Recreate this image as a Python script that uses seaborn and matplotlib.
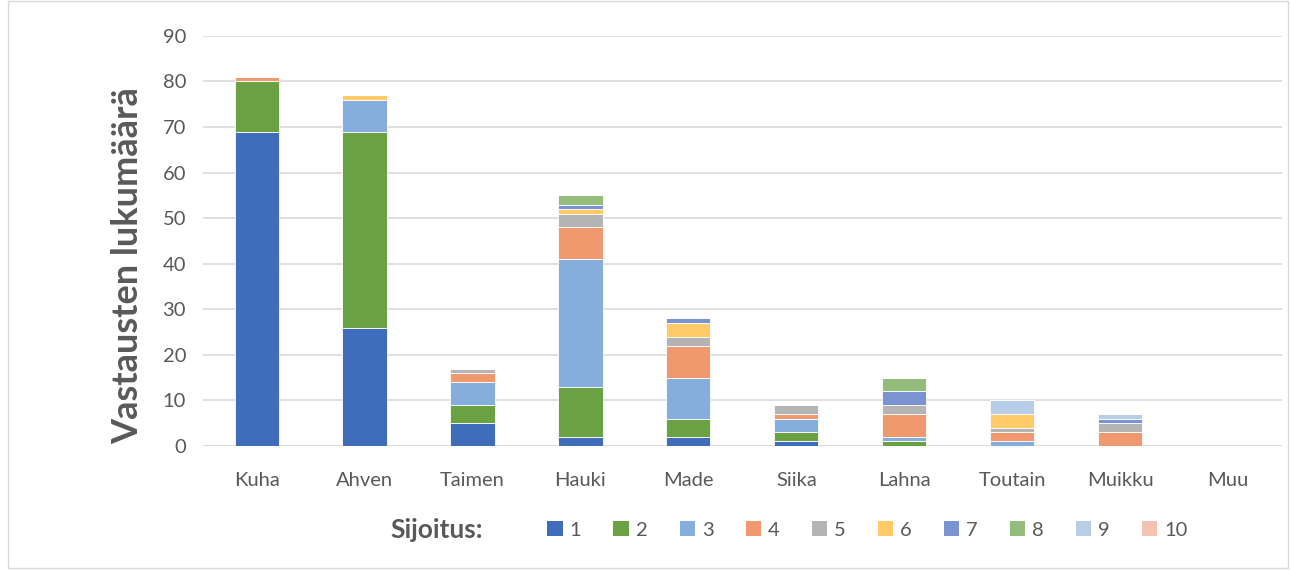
import numpy as np
import pandas as pd
import matplotlib.pyplot as plt
import seaborn as sns
from matplotlib.patches import Rectangle, Patch

# categories (fish species) and placements 1..10
species = ['Kuha', 'Ahven', 'Taimen', 'Hauki', 'Made', 'Siika', 'Lahna', 'Toutain', 'Muikku', 'Muu']
ranks = ['1', '2', '3', '4', '5', '6', '7', '8', '9', '10']

# counts per placement, one list per rank, in species order
rank_1 = [69, 26, 5, 2, 2, 1, 0, 0, 0, 0]
rank_2 = [11, 43, 4, 11, 4, 2, 1, 0, 0, 0]
rank_3 = [0, 7, 5, 28, 9, 3, 1, 1, 0, 0]
rank_4 = [1, 0, 2, 7, 7, 1, 5, 2, 3, 0]
rank_5 = [0, 0, 1, 3, 2, 2, 2, 1, 2, 0]
rank_6 = [0, 1, 0, 1, 3, 0, 0, 3, 0, 0]
rank_7 = [0, 0, 0, 1, 1, 0, 3, 0, 1, 0]
rank_8 = [0, 0, 0, 2, 0, 0, 3, 0, 0, 0]
rank_9 = [0, 0, 0, 0, 0, 0, 0, 3, 1, 0]
rank_10 = [0, 0, 0, 0, 0, 0, 0, 0, 0, 0]

colors = ['#3F6DBB', '#6AA142', '#85AEDC', '#F1996E', '#B4B4B4',
          '#FFCA67', '#7B93D1', '#94BC7A', '#B8CDE8', '#F4C2B0']

series = [rank_1, rank_2, rank_3, rank_4, rank_5, rank_6, rank_7, rank_8, rank_9, rank_10]

sns.set_style('white')
plt.rcParams['font.family'] = ['Lato', 'DejaVu Sans']

fig = plt.figure(figsize=(12.91, 5.70), dpi=100)
ax = fig.add_axes([0.157, 0.2175, 0.836, 0.7195])

# stacked bars with seaborn, cumulative bottoms
bottom = np.zeros(len(species))
for r, vals, c in zip(ranks, series, colors):
    df = pd.DataFrame({'Laji': species, 'Lukumäärä': vals})
    sns.barplot(data=df, x='Laji', y='Lukumäärä', color=c, bottom=bottom,
                width=0.41, ax=ax, saturation=1, edgecolor='white', linewidth=0.6)
    bottom = bottom + np.array(vals)

ax.set_ylim(0, 90)
ax.set_yticks(range(0, 91, 10))
ax.set_xlim(-0.5, len(species) - 0.5)
ax.grid(axis='y', color='#D9D9D9', linewidth=1.2)
ax.set_axisbelow(True)
sns.despine(ax=ax, left=True, top=True, right=True, bottom=True)
ax.axhline(0, color='#D9D9D9', linewidth=1.2, zorder=0)
ax.tick_params(axis='both', length=0, labelsize=14.5, colors='#595959')
ax.tick_params(axis='x', pad=19)
ax.tick_params(axis='y', pad=12)
ax.set_xlabel('')
ax.set_ylabel('Vastausten lukumäärä', fontsize=26, fontweight='bold', color='#595959')
ax.yaxis.set_label_coords(-0.054, 0.44)

# legend at the bottom
handles = [Patch(facecolor=c, edgecolor='none') for c in colors]
fig.legend(handles, ranks, loc='center left', bbox_to_anchor=(0.41, 0.07), ncol=10,
           frameon=False, fontsize=14.5, handlelength=0.75, handleheight=0.75,
           handletextpad=0.35, columnspacing=1.6, labelcolor='#595959')
fig.text(0.338, 0.07, 'Sijoitus:', fontsize=19, fontweight='bold', color='#595959',
         ha='center', va='center')

# chart border
fig.patches.append(Rectangle((0.006, 0.003), 0.992, 0.995, transform=fig.transFigure,
                             fill=False, edgecolor='#D9D9D9', linewidth=1))

fig.savefig('out.png', dpi=100)
